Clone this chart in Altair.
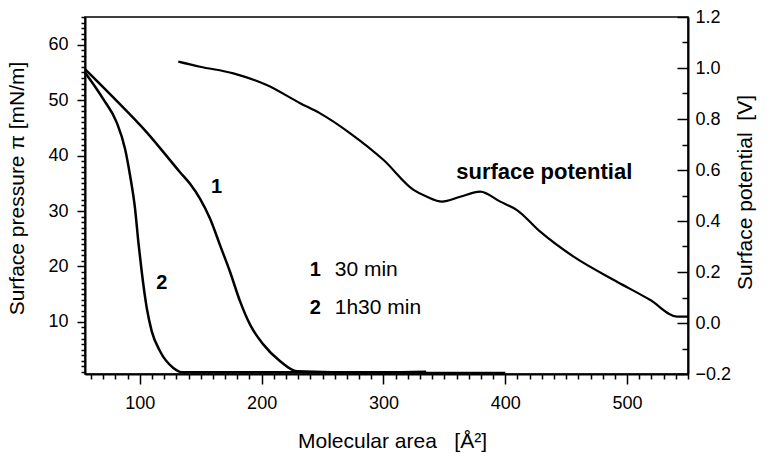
import altair as alt
import pandas as pd

# ---- data ----
area1 = [55, 78.2, 105.7, 133.0, 141.2, 149.5, 157.7, 165.9, 174.1, 182.3, 190.5, 201.5, 215.2, 228.9, 300, 400]
pres1 = [55.6, 50.5, 44.2, 37.0, 34.9, 32.2, 28.6, 23.8, 19.0, 13.7, 9.5, 5.9, 2.9, 1.1, 0.8, 0.8]

area2 = [55, 70.0, 81.0, 87.9, 92.0, 96.1, 98.8, 101.6, 105.7, 109.8, 116.6, 127.5, 135.7, 200, 300, 335]
pres2 = [55.0, 50.2, 46.0, 41.2, 36.4, 30.4, 24.4, 19.0, 12.5, 8.3, 4.7, 1.7, 0.9, 0.9, 0.9, 1.0]

areaV = [131.6, 149.5, 176.8, 204.2, 231.6, 248.0, 272.7, 300.1, 324.7, 335.7, 348.0, 363.0, 379.4,
         395.9, 409.6, 428.7, 456.1, 491.7, 519.1, 541.0, 550]
volt = [1.025, 1.005, 0.979, 0.933, 0.862, 0.822, 0.744, 0.639, 0.522, 0.495, 0.476, 0.495, 0.515,
        0.476, 0.443, 0.358, 0.260, 0.162, 0.090, 0.025, 0.025]

# annotations (data coordinates)
bold_txt = ["1", "2", "1", "2"]
bold_area = [163.0, 118.0, 244.0, 244.0]
bold_pres = [34.4, 17.1, 19.4, 12.5]
norm_txt = ["30 min", "1h30 min"]
norm_area = [260.0, 260.0]
norm_pres = [19.4, 12.5]
sp_txt = ["surface potential"]
sp_area = [432.0]
sp_volt = [0.592]

x_ticks = list(range(60, 551, 10))
left_ticks = list(range(1, 66))
right_ticks = [round(-0.2 + 0.1 * i, 1) for i in range(15)]

FONT = "Liberation Sans"

df_p = pd.DataFrame({
    "area": area1 + area2,
    "pressure": pres1 + pres2,
    "curve": ["1"] * len(area1) + ["2"] * len(area2),
})
df_v = pd.DataFrame({"area": areaV, "potential": volt})
df_bold = pd.DataFrame({"area": bold_area, "pressure": bold_pres, "t": bold_txt})
df_norm = pd.DataFrame({"area": norm_area, "pressure": norm_pres, "t": norm_txt})
df_sp = pd.DataFrame({"area": sp_area, "potential": sp_volt, "t": sp_txt})

xscale = alt.Scale(domain=[55, 550], nice=False, zero=False)
yscale_p = alt.Scale(domain=[0.6, 65], nice=False, zero=False)
yscale_v = alt.Scale(domain=[-0.2, 1.2], nice=False, zero=False)

x_axis = alt.Axis(
    values=x_ticks,
    labelExpr="datum.value % 100 === 0 ? datum.label : ''",
    tickSize={"condition": {"test": "datum.value % 100 === 0", "value": 10}, "value": 5},
    labelPadding=10, labelOverlap=False, labelFlush=False, grid=False,
    title="Molecular area\u00a0\u00a0\u00a0[Å²]",
    titleX=307, titleY=67, titleBaseline="middle", titleAlign="center",
)
left_axis = alt.Axis(
    orient="left", values=left_ticks,
    labelExpr="datum.value % 10 === 0 ? datum.label : ''",
    tickSize={"condition": {"test": "datum.value % 10 === 0", "value": 8}, "value": 4},
    labelPadding=9, labelOverlap=False, grid=False,
    title="Surface pressure π [mN/m]",
    titleX=-68, titleY=171, titleAngle=270, titleBaseline="middle", titleAlign="center",
)
right_axis = alt.Axis(
    orient="right", values=right_ticks, format=".1f",
    labelExpr="round(datum.value * 10) % 2 === 0 ? datum.label : ''",
    tickSize={"condition": {"test": "round(datum.value * 10) % 2 === 0", "value": -11}, "value": -6},
    labelPadding=18, labelOverlap=False, grid=False,
    title="Surface potential\u00a0\u00a0[V]",
    titleX=57, titleY=175, titleAngle=270, titleBaseline="middle", titleAlign="center",
)

X = alt.X("area:Q", scale=xscale, axis=x_axis)
Yp = alt.Y("pressure:Q", scale=yscale_p, axis=left_axis)
Yv = alt.Y("potential:Q", scale=yscale_v, axis=right_axis)

p_lines = alt.Chart(df_p).mark_line(color="black", strokeWidth=2.5, interpolate="monotone").encode(
    x=X, y=Yp, detail="curve:N")
p_bold = alt.Chart(df_bold).mark_text(font=FONT, fontSize=20, fontWeight="bold", color="black",
                                      align="center", baseline="middle").encode(x=X, y=Yp, text="t:N")
p_norm = alt.Chart(df_norm).mark_text(font=FONT, fontSize=21, color="black",
                                      align="left", baseline="middle").encode(x=X, y=Yp, text="t:N")
pressure_layer = alt.layer(p_lines, p_bold, p_norm)

v_line = alt.Chart(df_v).mark_line(color="black", strokeWidth=2.2, interpolate="monotone").encode(x=X, y=Yv)
v_text = alt.Chart(df_sp).mark_text(font=FONT, fontSize=22, fontWeight="bold", color="black",
                                    align="center", baseline="middle").encode(x=X, y=Yv, text="t:N")
potential_layer = alt.layer(v_line, v_text)

chart = alt.layer(pressure_layer, potential_layer).resolve_scale(y="independent").properties(
    width=603, height=357, autosize="none",
    padding={"left": 85, "top": 17, "right": 84, "bottom": 85},
    background="white",
).configure_axis(
    domainColor="black", domainWidth=2, tickColor="black", tickWidth=1.5,
    labelColor="black", labelFont=FONT, labelFontSize=18,
    titleFont=FONT, titleFontSize=21, titleFontWeight="normal", titleColor="black",
).configure_view(stroke="black", strokeWidth=1.5)

chart.save("out.html", embed_options={"renderer": "svg", "actions": False})
